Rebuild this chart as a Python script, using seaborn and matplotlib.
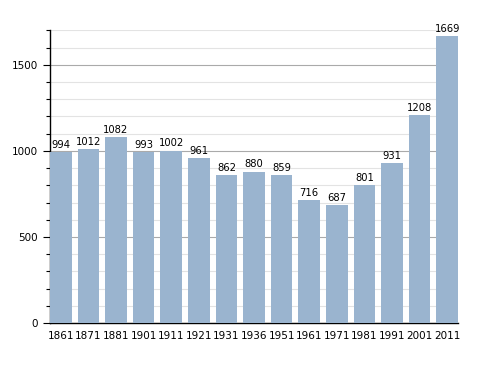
import matplotlib
matplotlib.use("Agg")
import matplotlib.pyplot as plt
import seaborn as sns
import pandas as pd
from matplotlib.ticker import MultipleLocator

years = ['1861', '1871', '1881', '1901', '1911', '1921', '1931', '1936',
         '1951', '1961', '1971', '1981', '1991', '2001', '2011']
population = [994, 1012, 1082, 993, 1002, 961, 862, 880, 859, 716, 687,
              801, 931, 1208, 1669]

data = pd.DataFrame({'year': years, 'pop': population})

sns.set_style('white')
plt.rcParams['text.color'] = 'black'
plt.rcParams['xtick.color'] = 'black'
plt.rcParams['ytick.color'] = 'black'
fig = plt.figure(figsize=(4.88, 3.73), dpi=100)
ax = fig.add_axes([0.1025, 0.134, 0.836, 0.786])

bar_w = 0.78
sns.barplot(data=data, x='year', y='pop', color='#9ab4cf', saturation=1,
            width=bar_w, linewidth=0, ax=ax, zorder=3)

ax.set_xlim(-bar_w / 2, len(years) - 1 + bar_w / 2)
ax.set_ylim(0, 1703)
ax.yaxis.set_major_locator(MultipleLocator(500))
ax.yaxis.set_minor_locator(MultipleLocator(100))
ax.grid(which='major', axis='y', color='#aaaaaa', linewidth=0.8, zorder=0)
ax.grid(which='minor', axis='y', color='#e3e3e3', linewidth=0.8, zorder=0)
ax.set_axisbelow(True)

for side in ['top', 'right']:
    ax.spines[side].set_visible(False)
for side in ['left', 'bottom']:
    ax.spines[side].set_color('black')
    ax.spines[side].set_linewidth(1)

ax.tick_params(axis='y', which='major', left=True, length=5, width=0.8,
               labelsize=7.5, color='black', labelcolor='black')
ax.tick_params(axis='y', which='minor', left=True, length=3, width=0.8,
               color='black')
ax.tick_params(axis='x', bottom=False, labelsize=7.5, pad=2,
               labelcolor='black')
ax.set_xlabel('')
ax.set_ylabel('')

for i, v in enumerate(population):
    ax.text(i, v + 12, str(v), ha='center', va='bottom', fontsize=7.2,
            color='black')

fig.savefig('out.png', dpi=100)
